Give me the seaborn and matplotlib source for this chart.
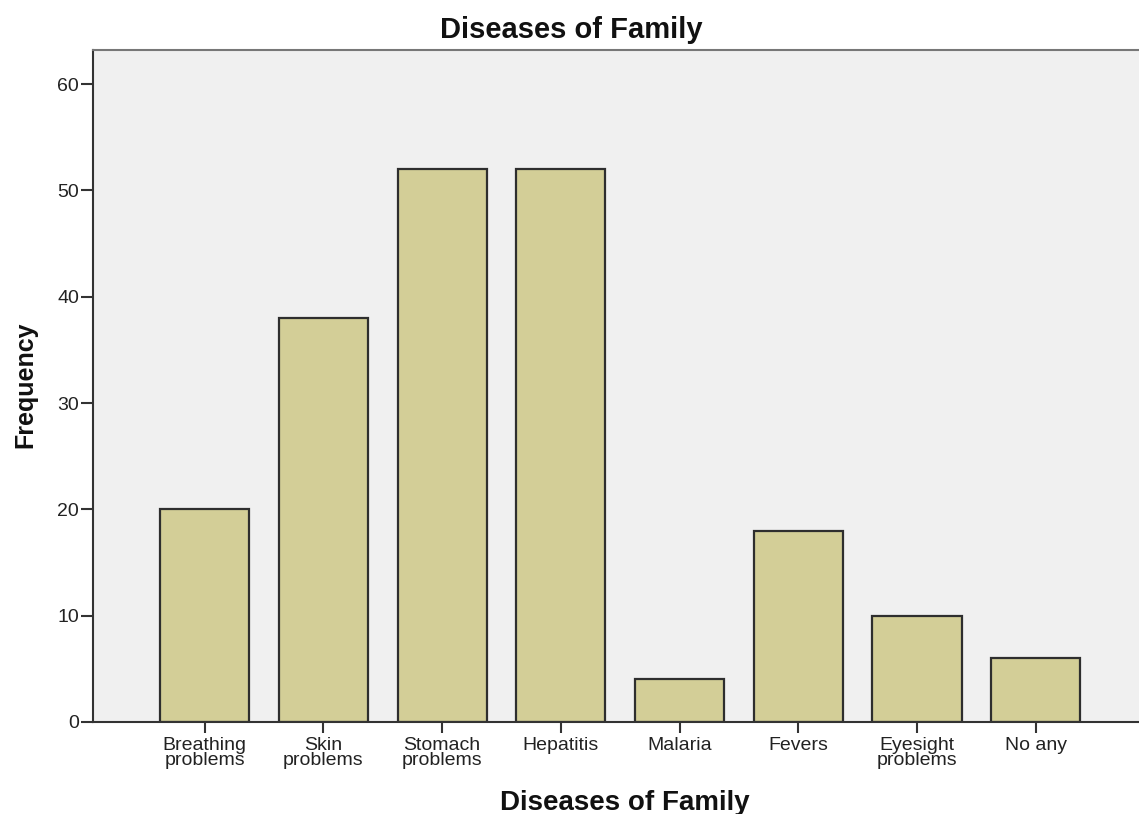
import matplotlib
matplotlib.use("Agg")
import matplotlib.pyplot as plt
import seaborn as sns
import pandas as pd

categories = ["Breathing\nproblems", "Skin\nproblems", "Stomach\nproblems", "Hepatitis",
              "Malaria", "Fevers", "Eyesight\nproblems", "No any"]
frequency = [20, 38, 52, 52, 4, 18, 10, 6]
y_ticks = [0, 10, 20, 30, 40, 50, 60]

df = pd.DataFrame({"Disease": categories, "Frequency": frequency})

sns.set_style("ticks")
plt.rcParams['font.family'] = ['Liberation Sans', 'DejaVu Sans']

fig = plt.figure(figsize=(11.39, 8.14), dpi=100)
ax = fig.add_axes([93/1139, 1-722/814, 1-93/1139, (722-50)/814])
ax.set_facecolor("#F0F0F0")

sns.barplot(data=df, x="Disease", y="Frequency", ax=ax, color="#D3CE97",
            saturation=1, width=0.75, edgecolor="#2e2e2e", linewidth=1.6)

ax.set_xlim(-0.94, 7.87)
ax.set_ylim(0, 63.2)
ax.set_yticks(y_ticks)
ax.set_yticklabels([str(t) for t in y_ticks], fontsize=14, color="#222222")
ax.tick_params(axis="y", length=9, width=1.5, pad=1, color="#333333")
ax.tick_params(axis="x", length=8, width=1.5, pad=3, color="#333333")
for lab in ax.get_xticklabels():
    lab.set_fontsize(14)
    lab.set_color("#222222")
    lab.set_linespacing(0.82)

for side in ["left", "bottom", "top"]:
    ax.spines[side].set_visible(True)
    ax.spines[side].set_linewidth(1.5)
    ax.spines[side].set_color("#333333")
ax.spines["top"].set_color("#777777")
ax.spines["right"].set_visible(False)

ax.set_xlabel("")
ax.set_ylabel("")
fig.text(571/1139, 1-30/814, "Diseases of Family", ha="center", va="center",
         fontsize=21, fontweight="bold", color="#111111")
fig.text(625/1139, 1-803/814, "Diseases of Family", ha="center", va="center",
         fontsize=20, fontweight="bold", color="#111111")
fig.text(25/1139, 1-385/814, "Frequency", ha="center", va="center", rotation=90,
         fontsize=18, fontweight="bold", color="#111111")

fig.savefig("out.png", dpi=100, facecolor="white")
